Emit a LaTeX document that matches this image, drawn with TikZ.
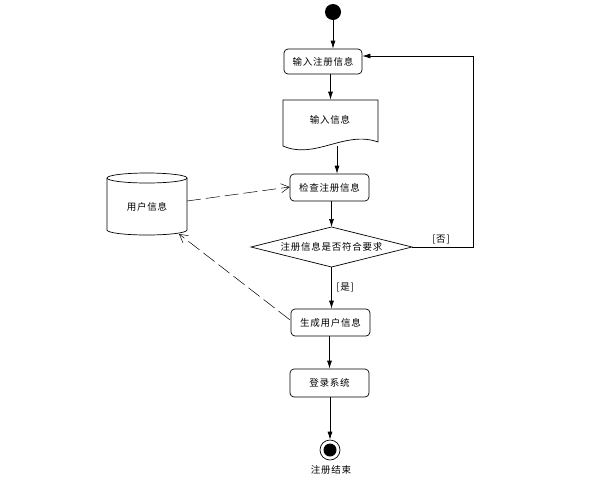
\documentclass[tikz,border=0pt]{standalone}
\usepackage{fontspec}
\setmainfont{Noto Sans CJK SC}[LetterSpace=8]
\usetikzlibrary{arrows.meta,calc}
\begin{document}
\begin{tikzpicture}[x=1pt,y=-1pt,
  font=\fontsize{9.5}{11}\selectfont,
  line width=0.7pt,
  act/.style={draw,rounded corners=4pt,minimum width=78pt,minimum height=26pt,inner sep=0pt},
  arr/.style={-{Latex[length=8pt,width=5pt]}},
  dep/.style={dash pattern=on 14pt off 5pt,-{Straight Barb[length=8pt,width=9pt]}, line width=0.5pt},
  plain/.style={inner sep=0pt}]
\useasboundingbox (0,0) rectangle (599,483);
% start
\node[circle,fill=black,minimum size=16pt,inner sep=0pt] (start) at (333,12) {};
% activities
\node[act,minimum width=78pt,minimum height=25pt] (n1) at (323,61.5) {输入注册信息};
\node[plain,minimum width=95pt,minimum height=46pt] (doc) at (330.5,123) {};
\draw (283,100) -- (378,100) -- (378,142) .. controls (345,130) and (315,160) .. (283,146) -- cycle;
\node[plain] (doct) at (330,120) {输入信息};
\node[act,minimum width=79pt,minimum height=27pt] (n3) at (329.5,187.5) {检查注册信息};
% decision
\node[plain] (dia) at (331.5,247) {注册信息是否符合要求};
\coordinate (dl) at (251,247);
\coordinate (dr) at (412,247);
\coordinate (dt) at (331.5,227);
\coordinate (db) at (331.5,267);
\draw (dl) -- (dt) -- (dr) -- (db) -- cycle;
\node[act,minimum width=79pt,minimum height=27pt] (n5) at (330.5,322.5) {生成用户信息};
\node[act,minimum width=79pt,minimum height=28pt] (n6) at (329.5,383) {登录系统};
% end
\node[circle,draw,minimum size=20pt,inner sep=0pt] (end) at (330,450) {};
\node[circle,fill=black,minimum size=13pt,inner sep=0pt] (endin) at (330,450) {};
\node[plain] (endl) at (331,470) {注册结束};
% data store
\node[plain,minimum width=80pt,minimum height=62pt] (db0) at (147,204) {};
\draw (107,178) -- (107,230) arc[start angle=180,end angle=360,x radius=40pt,y radius=5pt] -- (187,178);
\draw (147,178) ellipse[x radius=40pt,y radius=5pt];
\node[plain] (dbt) at (147,207) {用户信息};
% connectors
\draw[arr] (start.south) -- (start.south |- n1.north);
\draw[arr] (n1.south -| doc.north) -- (doc.north);
\draw[arr] ([xshift=6.5pt]doc.south) -- ([xshift=6.5pt]doc.south |- n3.north);
\draw[arr] (n3.south -| dt) -- (dt);
\draw[arr] (db) -- (db |- n5.north);
\draw[arr] (n5.south -| n6.north) -- (n6.north);
\draw[arr] (n6.south -| end.north) -- (end.north);
\coordinate (c1) at (473,247);
\coordinate (c2) at (473,56);
\draw[arr] (dr) -- (c1) -- (c2) -- (n1.east |- c2);
\node[plain,anchor=south] (no) at (441,244) {[否]};
\node[plain,anchor=west] (yes) at (336,288) {[是]};
% dependencies
\coordinate (d1) at (187,201);
\coordinate (d2) at (179,234);
\draw[dep] (d1) -- ([yshift=0.5pt]n3.west);
\draw[dep] ([xshift=-1pt,yshift=-11pt]n5.north west) -- (d2);
\end{tikzpicture}
\end{document}
